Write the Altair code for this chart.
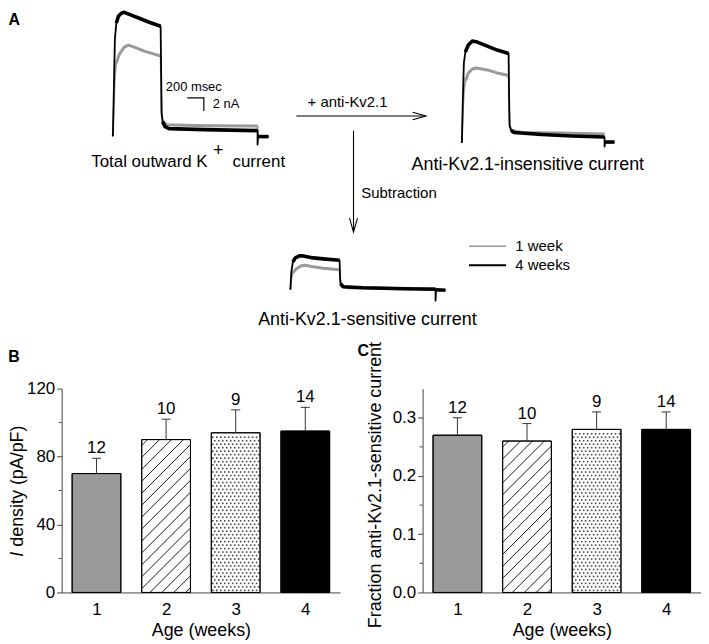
import altair as alt
import pandas as pd

# =========================== DATA ===========================
# Panels B / C : mean +/- SEM per age group
weeks = [1, 2, 3, 4]
n_cells = [12, 10, 9, 14]
density_mean = [70, 90, 94, 95]            # pA/pF
density_sem = [9, 12, 13.5, 14]
fraction_mean = [0.27, 0.26, 0.28, 0.28]
fraction_sem = [0.03, 0.03, 0.03, 0.03]
bar_style = ["gray", "hatch", "dots", "black"]

density_ticks = [0, 40, 80, 120]
density_minor = [20, 60, 100]
fraction_ticks = [0.0, 0.1, 0.2, 0.3]
fraction_minor = [0.05, 0.15, 0.25]

# Panel A : current traces, time (ms from step onset), current (nA above holding level)
total_4wk_t = [0, 12, 24, 36, 54, 78, 114, 150, 210, 330, 450, 588, 594, 600, 612, 642, 690, 1110, 1758, 1758, 1764, 1890]
total_4wk_i = [0, 0, 7.2, 14.6, 17.0, 18.0, 18.45, 18.6, 18.3, 17.7, 17.1, 16.5, 10.2, 3.45, 2.1, 1.35, 1.05, 0.9, 0.75, -1.35, -0.15, -0.15]
total_1wk_t = [0, 12, 24, 36, 54, 90, 150, 198, 270, 390, 510, 588, 594, 600, 618, 654, 1110, 1758, 1764, 1890]
total_1wk_i = [0, 0, 4.95, 9.0, 10.95, 12.3, 13.35, 13.65, 13.35, 12.75, 12.3, 12.0, 7.2, 3.0, 2.1, 1.65, 1.5, 1.43, -0.15, -0.15]

insens_4wk_t = [0, 12, 24, 36, 54, 90, 138, 198, 318, 438, 576, 582, 588, 606, 642, 978, 1338, 1734, 1734, 1740, 1854]
insens_4wk_i = [0, 0, 6.68, 11.93, 13.58, 14.63, 15.23, 15.08, 14.48, 13.88, 13.35, 6.68, 2.48, 1.73, 1.43, 1.13, 0.9, 0.75, -0.68, 0, 0]
insens_1wk_t = [0, 12, 24, 36, 54, 90, 138, 186, 318, 438, 576, 582, 588, 618, 738, 1218, 1734]
insens_1wk_i = [0, 0, 4.43, 7.43, 9.23, 10.43, 11.03, 11.18, 10.88, 10.43, 10.05, 5.18, 2.48, 1.73, 1.43, 1.35, 1.2]

sens_4wk_t = [0, 12, 30, 60, 108, 156, 276, 396, 594, 600, 606, 636, 876, 1356, 1752, 1752, 1758, 1872]
sens_4wk_i = [0, 2.7, 4.2, 4.8, 5.1, 5.1, 4.8, 4.65, 4.43, 1.95, 0.9, 0.45, 0.3, 0.15, 0.08, -1.65, 0, -0.08]
sens_1wk_t = [0, 12, 30, 72, 132, 180, 276, 396, 594, 600, 612, 696, 1752]
sens_1wk_i = [0, 1.65, 2.55, 3.15, 3.6, 3.68, 3.45, 3.23, 3.0, 1.65, 0.6, 0.3, 0.15]

scalebar_t = [0, 200, 200]      # 200 msec
scalebar_i = [0, 0, -2]         # 2 nA

series_names = ["1 week", "4 weeks"]

# =========================== LAYOUT / STYLE ===========================
FONT = "Liberation Sans"
PW, PH = 280, 205            # plot area of panels B and C
HALF = 0.35                  # half bar width (x units)
CAP = 0.065                  # half width of error cap
PX_PER_X = PW / 4.0
HATCH_STEP = 12.0            # px
DOT_DX, DOT_DY = 4.0, 3.5    # px
FILL = {"gray": "#9a9a9a", "hatch": "#ffffff", "dots": "#ffffff", "black": "#000000"}
AXIS_COLOR = "#444444"
TICK_FONT = 17
LETTER_FONT = 16

A_W, A_H = 600, 330
MS_PER_PX = 12.0
NA_PER_PX = 0.15
REF_X0, REF_Y0 = 57.0, 2.5


def ax(px):
    return (px - REF_X0) * MS_PER_PX


def ay(py):
    return (A_H - (py - REF_Y0)) * NA_PER_PX


xsA = alt.Scale(domain=[0, A_W * MS_PER_PX], nice=False, zero=False)
ysA = alt.Scale(domain=[0, A_H * NA_PER_PX], nice=False, zero=False)

TRACE_ORIGIN = {"total": (107.5, 128), "insensitive": (458.5, 134.5), "sensitive": (287, 283)}
# point-index ranges of the noisy (thick) parts of each recording
NOISY = {
    ("total", "1 week"): [(4, 11), (14, 17)],
    ("total", "4 weeks"): [(4, 11), (14, 18), (20, 21)],
    ("insensitive", "1 week"): [(4, 10), (13, 16)],
    ("insensitive", "4 weeks"): [(4, 10), (13, 17), (19, 20)],
    ("sensitive", "1 week"): [(2, 8), (10, 12)],
    ("sensitive", "4 weeks"): [(2, 8), (10, 14), (16, 17)],
}
SERIES_STYLE = {"1 week": ("#9a9a9a", 1.8, 3.0), "4 weeks": ("#000000", 1.8, 3.6)}
SCALEBAR_ORIGIN = (183.3, 90)
ARROWS = [
    [(293, 108.3), (423.3, 108.3)],
    [(410, 104.5), (423.3, 108.3), (410, 112)],
    [(350.5, 123), (350.5, 225)],
    [(346.5, 211), (350.5, 225), (354.5, 211)],
]
LEGEND_LINES = [(466.7, 504, 239.3, "#9a9a9a", 1.6), (466.7, 504, 258.3, "#000000", 2.0)]

A_TEXTS = [
    ("A", 3.5, 16.5, "panel"),
    ("200 msec", 161.7, 82.7, "small"),
    ("2 nA", 209, 100.7, "small"),
    ("Total outward K", 86.7, 159.3, "k_left"),
    ("+", 214.5, 148.5, "k_center"),
    ("current", 281.7, 159.3, "k_right"),
    ("+ anti-Kv2.1", 344.5, 99, "mid_center"),
    ("Subtraction", 358.3, 190.5, "mid_left"),
    ("Anti-Kv2.1-insensitive current", 525.8, 162.7, "big_center"),
    ("Anti-Kv2.1-sensitive current", 364.5, 318.3, "big_center"),
    (series_names[0], 513.3, 244.3, "mid_left"),
    (series_names[1], 513.3, 263.5, "mid_left"),
]
TEXT_STYLES = {
    "panel": dict(align="left", fontSize=LETTER_FONT, fontWeight="bold"),
    "small": dict(align="left", fontSize=13, fontWeight="normal"),
    "k_left": dict(align="left", fontSize=17, fontWeight="normal"),
    "k_center": dict(align="center", fontSize=18, fontWeight="normal"),
    "k_right": dict(align="right", fontSize=17, fontWeight="normal"),
    "mid_center": dict(align="center", fontSize=15, fontWeight="normal"),
    "mid_left": dict(align="left", fontSize=15, fontWeight="normal"),
    "big_center": dict(align="center", fontSize=18, fontWeight="normal"),
}

# =========================== PANEL A ===========================
trace_sets = [
    ("total", series_names[0], total_1wk_t, total_1wk_i),
    ("total", series_names[1], total_4wk_t, total_4wk_i),
    ("insensitive", series_names[0], insens_1wk_t, insens_1wk_i),
    ("insensitive", series_names[1], insens_4wk_t, insens_4wk_i),
    ("sensitive", series_names[0], sens_1wk_t, sens_1wk_i),
    ("sensitive", series_names[1], sens_4wk_t, sens_4wk_i),
]
rows, band_rows = [], []
for name, series, ts, cur in trace_sets:
    ox, oy = TRACE_ORIGIN[name]
    for k, (t, i) in enumerate(zip(ts, cur)):
        rec = dict(trace=name, series=series, idx=k, x=ax(ox) + t, y=ay(oy) + i)
        rows.append(rec)
        for s, (k0, k1) in enumerate(NOISY[(name, series)]):
            if k0 <= k <= k1:
                band_rows.append(dict(rec, seg=f"{name}-{s}"))
trace_df = pd.DataFrame(rows)
band_df = pd.DataFrame(band_rows)

XA = lambda f="x:Q": alt.X(f, scale=xsA, axis=None)
YA = lambda f="y:Q": alt.Y(f, scale=ysA, axis=None)


def trace_layers(series):
    color, w_line, w_band = SERIES_STYLE[series]
    base = alt.Chart(trace_df[trace_df.series == series]).mark_line(
        color=color, strokeWidth=w_line, strokeJoin="round"
    ).encode(x=XA(), y=YA(), detail="trace:N", order="idx:Q")
    band = alt.Chart(band_df[band_df.series == series]).mark_line(
        color=color, strokeWidth=w_band, strokeJoin="round", strokeCap="butt"
    ).encode(x=XA(), y=YA(), detail="seg:N", order="idx:Q")
    return [base, band]


sb_df = pd.DataFrame({
    "idx": range(3),
    "x": [ax(SCALEBAR_ORIGIN[0]) + t for t in scalebar_t],
    "y": [ay(SCALEBAR_ORIGIN[1]) + i for i in scalebar_i],
})
scalebar = alt.Chart(sb_df).mark_line(color="black", strokeWidth=1.2).encode(x=XA(), y=YA(), order="idx:Q")

arrow_rows = []
for g, pts in enumerate(ARROWS):
    for k, (px, py) in enumerate(pts):
        arrow_rows.append(dict(g=g, idx=k, x=ax(px), y=ay(py)))
arrows = alt.Chart(pd.DataFrame(arrow_rows)).mark_line(color="black", strokeWidth=1.1).encode(
    x=XA(), y=YA(), detail="g:N", order="idx:Q")

leg_layers = []
for x1, x2, yy, col, sw in LEGEND_LINES:
    d = pd.DataFrame({"x": [ax(x1)], "x2": [ax(x2)], "y": [ay(yy)]})
    leg_layers.append(alt.Chart(d).mark_rule(color=col, strokeWidth=sw).encode(x=XA(), x2="x2:Q", y=YA()))

text_df = pd.DataFrame([dict(label=s, x=ax(px), y=ay(py), style=st) for s, px, py, st in A_TEXTS])
text_layers = []
for st, kw in TEXT_STYLES.items():
    sub = text_df[text_df["style"] == st]
    if len(sub) == 0:
        continue
    text_layers.append(alt.Chart(sub).mark_text(baseline="alphabetic", color="black", **kw).encode(
        x=XA(), y=YA(), text="label:N"))

panel_a = alt.layer(
    *trace_layers(series_names[0]),
    *trace_layers(series_names[1]),
    scalebar, arrows, *leg_layers, *text_layers,
).properties(width=A_W, height=A_H)


# =========================== PANELS B / C ===========================
def bar_panel(means, sems, ymax, ticks, minor, fmt, letter_pos, title_items):
    df = pd.DataFrame({"week": weeks, "mean": means, "sem": sems, "n": n_cells, "style": bar_style})
    df["x1"] = df["week"] - HALF
    df["x2"] = df["week"] + HALF
    df["top"] = df["mean"] + df["sem"]
    df["base"] = 0.0
    df["fill"] = df["style"].map(FILL)
    df["c1"] = df["week"] - CAP
    df["c2"] = df["week"] + CAP
    xs = alt.Scale(domain=[0.5, 4.5], nice=False, zero=False)
    ys = alt.Scale(domain=[0, ymax], nice=False, zero=False)
    px_per_y = PH / ymax

    x_axis = alt.Axis(
        values=weeks, format="d", ticks=False, grid=False, labelFontSize=TICK_FONT, labelPadding=9,
        labelColor="black", domainColor=AXIS_COLOR, title="Age (weeks)", titleFontSize=18,
        titleFontWeight="normal", titlePadding=4, titleColor="black")
    y_axis = alt.Axis(
        values=ticks, format=fmt, tickSize=5, labelPadding=2, labelFontSize=TICK_FONT, grid=False,
        labelColor="black", domainColor=AXIS_COLOR, tickColor=AXIS_COLOR, title=None)

    def X(f):
        return alt.X(f, scale=xs, axis=x_axis)

    def Y(f):
        return alt.Y(f, scale=ys, axis=y_axis)

    hatch, dots = [], []
    for _, r in df.iterrows():
        left_px = (r["x1"] - 0.5) * PX_PER_X
        w = (r["x2"] - r["x1"]) * PX_PER_X
        h = r["mean"] * px_per_y
        if r["style"] == "hatch":
            c = -h + HATCH_STEP * 0.5
            while c < w:
                u0, u1 = max(0.0, c), min(w, c + h)
                if u1 - u0 > 0.5:
                    hatch.append(dict(xa=0.5 + (left_px + u0) / PX_PER_X, xb=0.5 + (left_px + u1) / PX_PER_X,
                                      ya=(u0 - c) / px_per_y, yb=(u1 - c) / px_per_y))
                c += HATCH_STEP
        elif r["style"] == "dots":
            j = 0
            v = DOT_DY * 0.6
            while v < h - 1:
                u = 1.5 + (DOT_DX / 2 if j % 2 else 0)
                while u < w - 1:
                    dots.append(dict(xd=0.5 + (left_px + u) / PX_PER_X, yd=v / px_per_y))
                    u += DOT_DX
                v += DOT_DY
                j += 1
    hatch_df = pd.DataFrame(hatch)
    dots_df = pd.DataFrame(dots)

    bars = alt.Chart(df).mark_rect(stroke="black", strokeWidth=1).encode(
        x=X("x1:Q"), x2="x2:Q", y=Y("mean:Q"), y2="base:Q",
        fill=alt.Fill("fill:N", scale=None),
    )
    hatch_l = alt.Chart(hatch_df).mark_rule(color="black", strokeWidth=0.9).encode(
        x=X("xa:Q"), x2="xb:Q", y=Y("ya:Q"), y2="yb:Q")
    dots_l = alt.Chart(dots_df).mark_square(size=2.5, color="#444444", opacity=1).encode(
        x=X("xd:Q"), y=Y("yd:Q"))
    outline = alt.Chart(df).mark_rect(fillOpacity=0, stroke="black", strokeWidth=1).encode(
        x=X("x1:Q"), x2="x2:Q", y=Y("mean:Q"), y2="base:Q")
    err = alt.Chart(df).mark_rule(color="#333333", strokeWidth=1).encode(
        x=X("week:Q"), y=Y("mean:Q"), y2="top:Q")
    cap = alt.Chart(df).mark_rule(color="#333333", strokeWidth=1).encode(
        x=X("c1:Q"), x2="c2:Q", y=Y("top:Q"))
    nlab = alt.Chart(df).mark_text(dy=-5, baseline="alphabetic", fontSize=17, color="black").encode(
        x=X("week:Q"), y=Y("top:Q"), text="n:N")
    mdf = pd.DataFrame({"v": minor})
    minor_l = alt.Chart(mdf).mark_rule(color=AXIS_COLOR, strokeWidth=1).encode(
        x=alt.value(-3), x2=alt.value(0), y=Y("v:Q"))
    one = pd.DataFrame({"k": [0]})
    letter, lx, ly = letter_pos
    letter_l = alt.Chart(one).mark_text(align="left", baseline="alphabetic", fontSize=LETTER_FONT,
                                        fontWeight="bold", color="black", text=letter).encode(
        x=alt.value(lx), y=alt.value(ly))
    title_l = []
    for txt, style, tx, ty, al in title_items:
        title_l.append(alt.Chart(one).mark_text(angle=270, align=al, baseline="middle", fontSize=18,
                                                fontStyle=style, color="black", text=txt)
                       .encode(x=alt.value(tx), y=alt.value(ty)))
    return alt.layer(bars, hatch_l, dots_l, outline, err, cap, nlab, minor_l, letter_l, *title_l).properties(
        width=PW, height=PH)


panel_b = bar_panel(density_mean, density_sem, 120, density_ticks, density_minor, "d",
                    ("B", -53.7, -26.3),
                    [("I", "italic", -44, 169, "left"), ("density (pA/pF)", "normal", -44, 159, "left")])
panel_c = bar_panel(fraction_mean, fraction_sem, 0.35, fraction_ticks, fraction_minor, ".1f",
                    ("C", -65.5, -33),
                    [("Fraction anti-Kv2.1-sensitive current", "normal", -46.5, 97, "center")])

row = alt.hconcat(panel_b, panel_c, spacing=83, bounds="flush")
chart = (
    alt.vconcat(panel_a, row, spacing=50, bounds="flush")
    .properties(padding=0)
    .configure(font=FONT)
    .configure_view(stroke=None)
)

chart.save("out.html", embed_options={"renderer": "svg", "actions": False})
